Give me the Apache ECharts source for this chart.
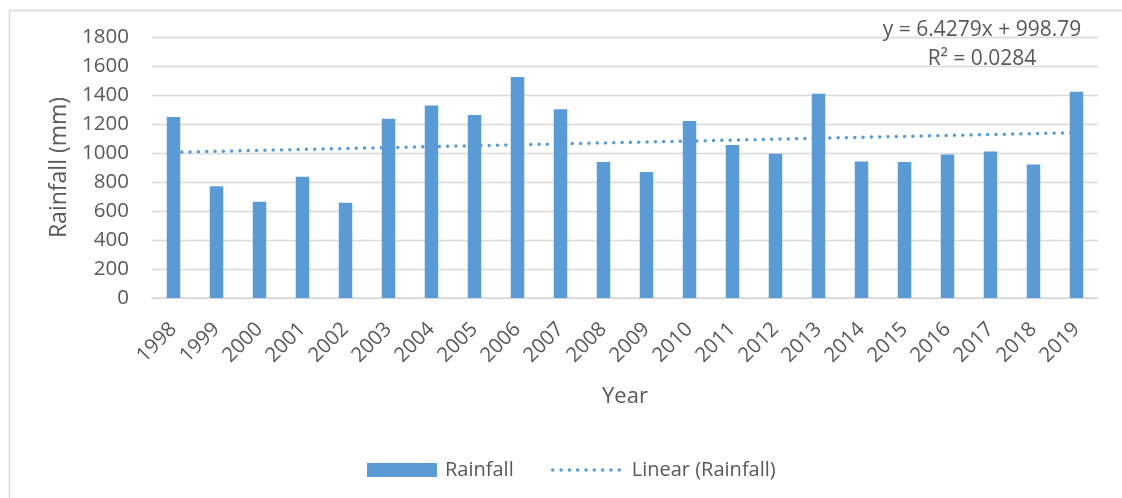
<!DOCTYPE html>
<html>
<head>
<meta charset="utf-8">
<title>Rainfall 1998–2019</title>
<script src="https://cdn.jsdelivr.net/npm/echarts@6/dist/echarts.min.js"></script>
<style>
  html, body { margin: 0; padding: 0; background: #fff; }
  #chart { width: 1122px; height: 498px; }
</style>
</head>
<body>
<div id="chart"></div>
<script>
// Annual rainfall (mm)
const years = ['1998','1999','2000','2001','2002','2003','2004','2005','2006','2007','2008',
               '2009','2010','2011','2012','2013','2014','2015','2016','2017','2018','2019'];
const rainfall = [1248, 770, 664, 837, 657, 1237, 1328, 1262, 1524, 1301, 938,
                  869, 1221, 1055, 995, 1409, 942, 938, 990, 1011, 921, 1423];

// Linear trend fitted over the series index x = 1..22
const trendSlope = 6.4279;
const trendIntercept = 998.79;
const trendR2 = '0.0284';

const yTicks = { min: 0, max: 1800, interval: 200 };

const trend = years.map((_, i) => +(trendSlope * (i + 1) + trendIntercept).toFixed(2));

const FONT = '"Open Sans", "Liberation Sans", sans-serif';
const TEXT = '#595959';
const BLUE = '#5B9BD5';
const GRID = '#d9d9d9';

const chart = echarts.init(document.getElementById('chart'), null, { renderer: 'canvas' });

chart.setOption({
  animation: false,
  backgroundColor: '#fff',
  textStyle: { fontFamily: FONT, color: TEXT },
  graphic: [{
    type: 'rect',
    left: 7, top: 8,
    shape: { width: 1140, height: 520 },
    style: { fill: 'none', stroke: GRID, lineWidth: 1.5 },
    silent: true, z: -10
  }],
  title: {
    text: `y = ${trendSlope}x + ${trendIntercept}\nR² = ${trendR2}`,
    left: 977, top: 11,
    textAlign: 'center',
    textStyle: { fontFamily: FONT, fontSize: 21, fontWeight: 'normal', color: TEXT, lineHeight: 29 }
  },
  grid: { left: 152, right: 24, top: 37, bottom: 200, containLabel: false },
  legend: [
    {
      data: ['Rainfall'],
      left: 362, top: 455,
      icon: 'rect',
      itemWidth: 70, itemHeight: 14, itemGap: 0,
      textStyle: { fontFamily: FONT, fontSize: 20, color: TEXT, padding: [0, 0, 0, 3] }
    },
    {
      data: ['Linear (Rainfall)'],
      left: 546, top: 455,
      itemWidth: 71, itemHeight: 14, itemGap: 0,
      itemStyle: { opacity: 0 },
      lineStyle: { width: 3.5, type: [0.01, 8.3], cap: 'round' },
      textStyle: { fontFamily: FONT, fontSize: 20, color: TEXT, padding: [0, 0, 0, 3] }
    }
  ],
  xAxis: {
    type: 'category',
    data: years,
    name: 'Year',
    nameLocation: 'middle',
    nameGap: 88,
    nameTextStyle: { fontFamily: FONT, fontSize: 22, color: TEXT },
    axisLine: { lineStyle: { color: GRID, width: 1.5 } },
    axisTick: { show: false },
    axisLabel: { rotate: 45, margin: 28, fontFamily: FONT, fontSize: 20.5, color: TEXT, interval: 0 }
  },
  yAxis: {
    type: 'value',
    min: yTicks.min, max: yTicks.max, interval: yTicks.interval,
    name: 'Rainfall (mm)',
    nameLocation: 'middle',
    nameRotate: 90,
    nameGap: 76,
    nameTextStyle: { fontFamily: FONT, fontSize: 23, color: TEXT },
    axisLine: { show: false },
    axisTick: { show: false },
    axisLabel: { margin: 23, fontFamily: FONT, fontSize: 20.5, color: TEXT, formatter: v => String(v) },
    splitLine: { lineStyle: { color: GRID, width: 1.3 } }
  },
  series: [
    {
      name: 'Linear (Rainfall)',
      type: 'line',
      data: trend,
      symbol: 'none',
      z: 1,
      color: BLUE,
      lineStyle: { color: BLUE, width: 3.5, type: [0.01, 8.3], cap: 'round' }
    },
    {
      name: 'Rainfall',
      type: 'bar',
      data: rainfall,
      barWidth: 13.5,
      z: 2,
      itemStyle: { color: BLUE }
    }
  ]
});
</script>
</body>
</html>
